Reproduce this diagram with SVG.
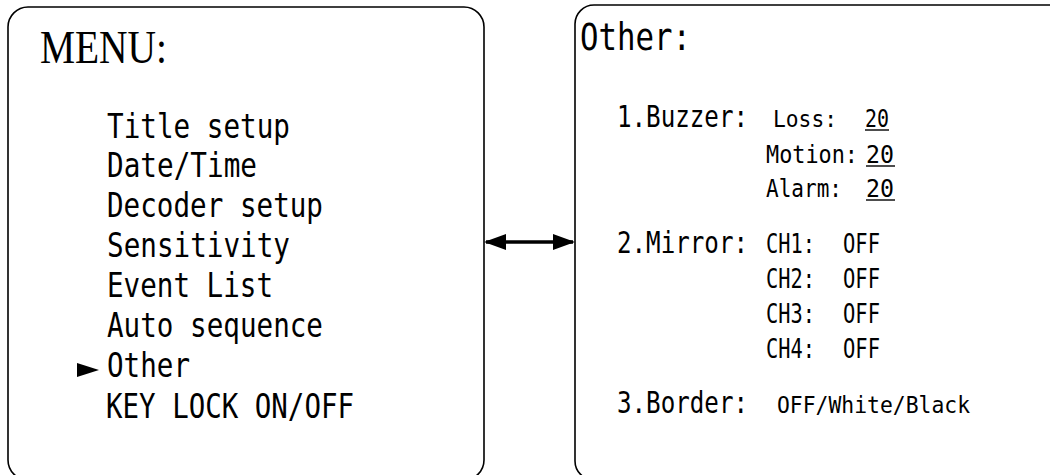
<svg xmlns="http://www.w3.org/2000/svg" width="1050" height="475" viewBox="0 0 1050 475">
<style>
.box{fill:#fff;stroke:#000;stroke-width:1.6}
.m{font-family:"DejaVu Sans Mono","Liberation Mono",monospace;fill:#000}
.big{font-size:27.6px}
.hd{font-size:30.5px}
.sub{font-size:24.3px}
.val{font-size:21px}
.ttl{font-family:"Liberation Serif",serif;font-size:39.5px;fill:#000}
.ul{stroke:#000;stroke-width:1.4}
.conn{stroke:#000;stroke-width:3.5;fill:none}
</style>
<defs>
<marker id="ah" viewBox="0 0 22 16" refX="20" refY="8" markerWidth="22" markerHeight="16" markerUnits="userSpaceOnUse" orient="auto-start-reverse">
<path d="M0,0 L22,8 L0,16 Z" fill="#000"/>
</marker>
</defs>
<g id="menu">
<rect class="box" x="8" y="7" width="476" height="473" rx="20"/>
<text class="ttl" transform="translate(40,63) scale(1,1.15)" textLength="127" lengthAdjust="spacingAndGlyphs">MENU:</text>
<text class="m big" transform="translate(107,138) scale(1,1.24)" textLength="183" lengthAdjust="spacingAndGlyphs">Title setup</text>
<text class="m big" transform="translate(107,177) scale(1,1.24)" textLength="150" lengthAdjust="spacingAndGlyphs">Date/Time</text>
<text class="m big" transform="translate(107,217) scale(1,1.24)" textLength="216" lengthAdjust="spacingAndGlyphs">Decoder setup</text>
<text class="m big" transform="translate(107,257) scale(1,1.24)" textLength="183" lengthAdjust="spacingAndGlyphs">Sensitivity</text>
<text class="m big" transform="translate(107,297) scale(1,1.24)" textLength="166" lengthAdjust="spacingAndGlyphs">Event List</text>
<text class="m big" transform="translate(107,337) scale(1,1.24)" textLength="216" lengthAdjust="spacingAndGlyphs">Auto sequence</text>
<polygon points="77,363 99,370 77,377" fill="#000"/>
<text class="m big" transform="translate(107,377) scale(1,1.24)" textLength="83" lengthAdjust="spacingAndGlyphs">Other</text>
<text class="m big" transform="translate(106,418) scale(1,1.24)" textLength="248" lengthAdjust="spacingAndGlyphs">KEY LOCK ON/OFF</text>
</g>
<g id="other">
<rect class="box" x="575" y="5" width="500" height="475" rx="19"/>
<text class="m hd" transform="translate(580,50) scale(1,1.22)" textLength="111" lengthAdjust="spacingAndGlyphs">Other:</text>
<text class="m sub" transform="translate(617,127) scale(1,1.21)" textLength="131" lengthAdjust="spacingAndGlyphs">1.Buzzer:</text>
<text class="m val" transform="translate(773,127) scale(1,1.1)" textLength="64" lengthAdjust="spacingAndGlyphs">Loss:</text>
<text class="m val" transform="translate(865,127) scale(1,1.2)" textLength="24" lengthAdjust="spacingAndGlyphs">20</text>
<line class="ul" x1="865" y1="130" x2="889" y2="130"/>
<text class="m val" transform="translate(766,163) scale(1,1.18)" textLength="92" lengthAdjust="spacingAndGlyphs">Motion:</text>
<text class="m val" transform="translate(866,163) scale(1,1.2)" textLength="28" lengthAdjust="spacingAndGlyphs">20</text>
<line class="ul" x1="866" y1="166" x2="895" y2="166"/>
<text class="m val" transform="translate(766,197) scale(1,1.18)" textLength="76" lengthAdjust="spacingAndGlyphs">Alarm:</text>
<text class="m val" transform="translate(866,197) scale(1,1.2)" textLength="28" lengthAdjust="spacingAndGlyphs">20</text>
<line class="ul" x1="866" y1="200" x2="895" y2="200"/>
<text class="m sub" transform="translate(617,253) scale(1,1.21)" textLength="131" lengthAdjust="spacingAndGlyphs">2.Mirror:</text>
<text class="m val" transform="translate(766,253) scale(1,1.24)" textLength="49" lengthAdjust="spacingAndGlyphs">CH1:</text>
<text class="m val" transform="translate(843,253) scale(1,1.24)" textLength="37" lengthAdjust="spacingAndGlyphs">OFF</text>
<text class="m val" transform="translate(766,288) scale(1,1.24)" textLength="49" lengthAdjust="spacingAndGlyphs">CH2:</text>
<text class="m val" transform="translate(843,288) scale(1,1.24)" textLength="37" lengthAdjust="spacingAndGlyphs">OFF</text>
<text class="m val" transform="translate(766,323) scale(1,1.24)" textLength="49" lengthAdjust="spacingAndGlyphs">CH3:</text>
<text class="m val" transform="translate(843,323) scale(1,1.24)" textLength="37" lengthAdjust="spacingAndGlyphs">OFF</text>
<text class="m val" transform="translate(766,358) scale(1,1.24)" textLength="49" lengthAdjust="spacingAndGlyphs">CH4:</text>
<text class="m val" transform="translate(843,358) scale(1,1.24)" textLength="37" lengthAdjust="spacingAndGlyphs">OFF</text>
<text class="m sub" transform="translate(617,413) scale(1,1.21)" textLength="131" lengthAdjust="spacingAndGlyphs">3.Border:</text>
<text class="m val" transform="translate(777,413) scale(1,1.12)" textLength="193" lengthAdjust="spacingAndGlyphs">OFF/White/Black</text>
</g>
<g id="connectors">
<line class="conn" x1="486" y1="242" x2="573" y2="242" marker-start="url(#ah)" marker-end="url(#ah)"/>
</g>
</svg>
